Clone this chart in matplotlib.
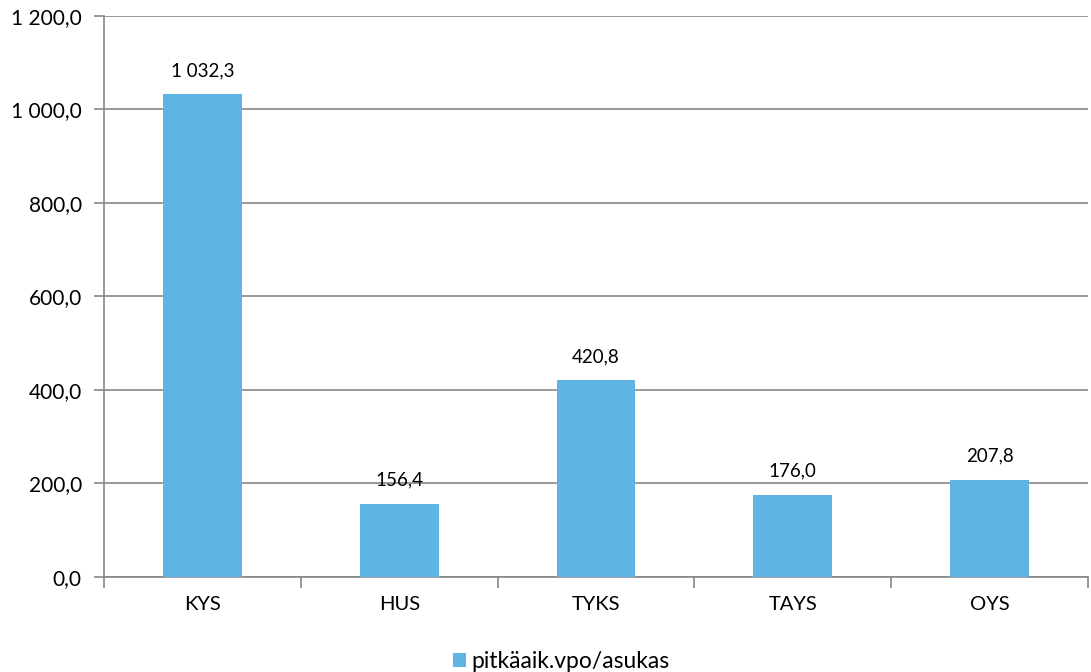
import matplotlib
matplotlib.use("Agg")
import matplotlib.pyplot as plt
from matplotlib.ticker import FuncFormatter

categories = ["KYS", "HUS", "TYKS", "TAYS", "OYS"]
values = [1032.3, 156.4, 420.8, 176.0, 207.8]
series_name = "pitkäaik.vpo/asukas"
yticks = [0, 200, 400, 600, 800, 1000, 1200]

plt.rcParams['font.family'] = ['Lato', 'DejaVu Sans']

def fmt(v, pos=None):
    s = f"{v:,.1f}".replace(",", " ").replace(".", ",")
    return s

fig = plt.figure(figsize=(10.91, 6.72), dpi=100)
ax = fig.add_axes([0.0953, 0.1414, 0.9020, 0.8348])
color = "#5EB5E4"
x = list(range(len(categories)))
bars = ax.bar(x, values, width=0.4, color=color, label=series_name, zorder=3)
ax.set_xlim(-0.5, len(categories) - 0.5)
ax.set_ylim(0, 1200)
ax.set_yticks(yticks)
ax.yaxis.set_major_formatter(FuncFormatter(fmt))
ax.grid(axis='y', color="#878787", linewidth=1.2, zorder=0)
ax.set_xticks(x)
ax.set_xticklabels(categories)
ax.set_xticks([i - 0.5 for i in range(len(categories) + 1)], minor=True)
ax.tick_params(axis='x', which='major', length=0, labelsize=14.5, pad=14)
ax.tick_params(axis='x', which='minor', length=8, width=1.2, color="#878787", direction='out')
ax.tick_params(axis='y', length=7, width=1.2, color="#878787", labelsize=15, pad=9)
for s in ['top', 'right']:
    ax.spines[s].set_visible(False)
for s in ['left', 'bottom']:
    ax.spines[s].set_color("#878787")
    ax.spines[s].set_linewidth(1.2)
for b, v in zip(bars, values):
    ax.annotate(fmt(v), (b.get_x() + b.get_width() / 2, v), xytext=(0, 11),
                textcoords='offset points', ha='center', va='bottom', fontsize=13.5)
fig.legend(handles=[bars], labels=[series_name], loc='center', bbox_to_anchor=(0.5145, 0.016),
           frameon=False, fontsize=16.5, handlelength=0.55, handleheight=0.55, handletextpad=0.25)
fig.savefig("out.png", dpi=100)
